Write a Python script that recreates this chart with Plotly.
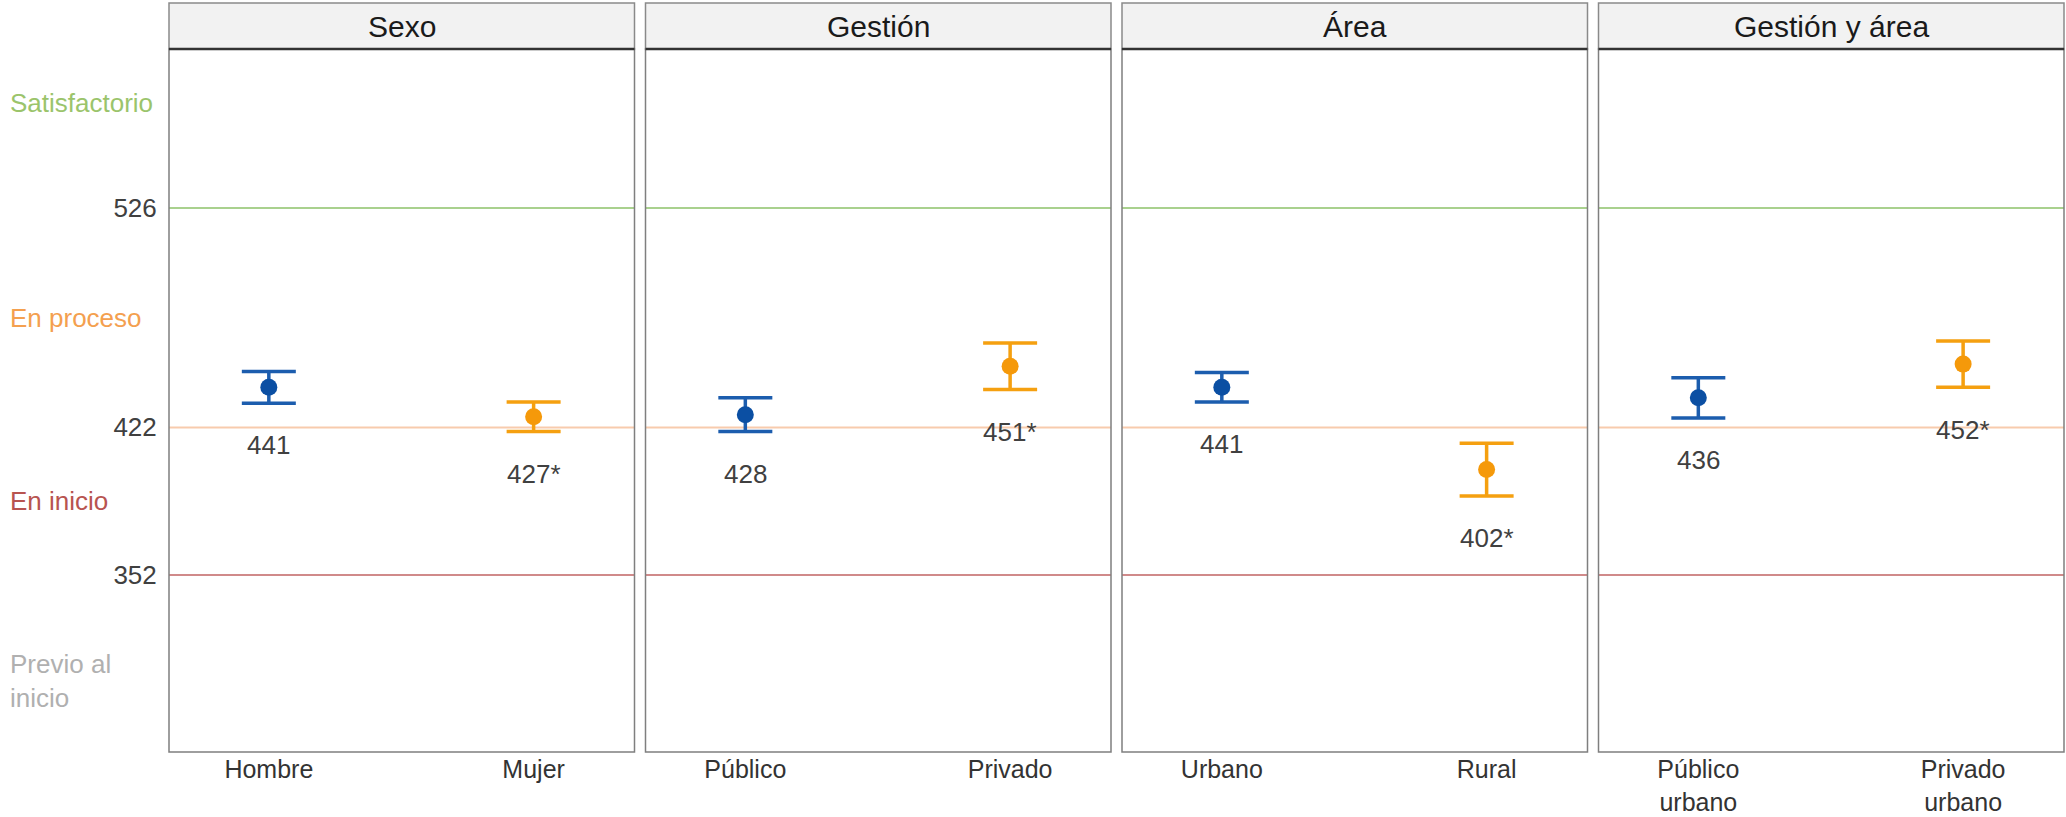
import plotly.graph_objects as go

# ---------------- data ----------------
panels = ["Sexo", "Gestión", "Área", "Gestión y área"]
categories = [
    ["Hombre", "Mujer"],
    ["Público", "Privado"],
    ["Urbano", "Rural"],
    ["Público<br>urbano", "Privado<br>urbano"],
]
means = [[441, 427], [428, 451], [441, 402], [436, 452]]
lower = [[433.5, 420], [420, 440], [434, 389.5], [426.5, 441]]
upper = [[448.5, 434], [436, 462], [448, 414.5], [445.5, 463]]
value_labels = [["441", "427*"], ["428", "451*"], ["441", "402*"], ["436", "452*"]]

cut_values = [526, 422, 352]
cut_colors = ["#A9D18E", "#F8CBAD", "#D08A8A"]
level_names = ["Satisfactorio", "En proceso", "En inicio", "Previo al<br>inicio"]
level_pos = [576, 474, 387, 302]
level_colors = ["#9BC46B", "#F4A04F", "#B85450", "#B0B0B0"]

point_colors = ["#0B4FA3", "#F5990A"]
bar_colors = ["#1C5DAE", "#F5A010"]

# ---------------- layout geometry ----------------
W, H = 2066, 817
left0, pw, gap = 169, 465.5, 11
plot_top, plot_bot, strip_top = 49, 752, 3
y0 = (H - plot_bot) / H
y1 = (H - plot_top) / H
ys = (H - strip_top) / H

FONT = "Liberation Sans, Arial, sans-serif"

fig = go.Figure()
layout = dict(
    template="none",
    width=W, height=H,
    margin=dict(l=0, r=0, t=0, b=0, pad=0),
    paper_bgcolor="white", plot_bgcolor="white",
    showlegend=False,
    font=dict(family=FONT, color="#404040"),
)
shapes = []
annotations = []

for i, name in enumerate(panels):
    k = "" if i == 0 else str(i + 1)
    xa, ya = "x" + k, "y" + k
    xl = (left0 + i * (pw + gap)) / W
    xr = (left0 + i * (pw + gap) + pw) / W
    for j in range(2):
        fig.add_trace(go.Scatter(
            x=[categories[i][j]], y=[means[i][j]],
            mode="markers",
            marker=dict(color=point_colors[j], size=17),
            error_y=dict(
                type="data", symmetric=False,
                array=[upper[i][j] - means[i][j]],
                arrayminus=[means[i][j] - lower[i][j]],
                color=bar_colors[j], thickness=3.5, width=27,
            ),
            xaxis=xa, yaxis=ya,
        ))
        annotations.append(dict(
            x=categories[i][j], y=lower[i][j] - 20, xref=xa, yref=ya,
            text=value_labels[i][j], showarrow=False,
            xanchor="center", yanchor="middle",
            font=dict(size=26, color="#404040", family=FONT),
        ))
    layout["xaxis" + k] = dict(
        domain=[xl, xr], anchor=ya, type="category",
        categoryorder="array", categoryarray=categories[i],
        range=[-0.377, 1.381], showgrid=False, zeroline=False,
        showline=False, ticks="", ticklen=0,
        tickfont=dict(size=25, color="#333333", family=FONT),
        automargin=False, fixedrange=True,
    )
    layout["yaxis" + k] = dict(
        domain=[y0, y1], anchor=xa, range=[268.1, 601.4],
        tickvals=cut_values, ticktext=[str(v) for v in cut_values],
        showticklabels=(i == 0), showgrid=False, zeroline=False,
        showline=False, ticks="outside", ticklen=6, tickcolor="rgba(0,0,0,0)",
        tickfont=dict(size=26, color="#404040", family=FONT),
        automargin=False, fixedrange=True,
    )
    # threshold lines
    for v, c in zip(cut_values, cut_colors):
        shapes.append(dict(type="line", xref=xa + " domain", yref=ya,
                           x0=0, x1=1, y0=v, y1=v,
                           line=dict(color=c, width=2), layer="below"))
    # panel border
    shapes.append(dict(type="rect", xref="paper", yref="paper",
                       x0=xl, x1=xr, y0=y0, y1=y1,
                       line=dict(color="#7F7F7F", width=1.5)))
    # strip
    shapes.append(dict(type="rect", xref="paper", yref="paper",
                       x0=xl, x1=xr, y0=y1, y1=ys,
                       fillcolor="#F2F2F2", line=dict(color="#8A8A8A", width=1.5)))
    shapes.append(dict(type="line", xref="paper", yref="paper",
                       x0=xl, x1=xr, y0=y1, y1=y1,
                       line=dict(color="#333333", width=2.5)))
    annotations.append(dict(
        x=(xl + xr) / 2, y=(y1 + ys) / 2, xref="paper", yref="paper",
        text=name, showarrow=False, xanchor="center", yanchor="middle",
        font=dict(size=30, color="#1A1A1A", family=FONT),
    ))

# level names on the left
for nm, pos, col in zip(level_names, level_pos, level_colors):
    annotations.append(dict(
        x=8 / W, y=pos, xref="paper", yref="y", xanchor="left", yanchor="middle",
        text=nm, showarrow=False, align="left",
        font=dict(size=26, color=col, family=FONT),
    ))

layout["shapes"] = shapes
layout["annotations"] = annotations
fig.update_layout(**layout)
fig.write_html(
    "out.html",
    config={"displayModeBar": False},
    post_script="document.body.style.margin='0';document.body.style.overflow='hidden';",
)
